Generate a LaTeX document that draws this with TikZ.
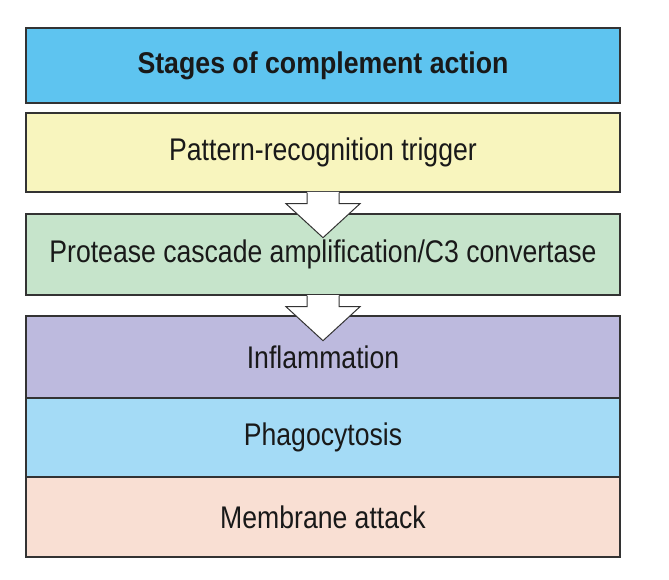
\documentclass[tikz,border=0pt]{standalone}
\usepackage{fontspec}
\setmainfont[FakeStretch=0.85]{Liberation Sans}
\newfontfamily\titlefont[FakeStretch=0.89]{Liberation Sans}
\usetikzlibrary{calc}
\definecolor{ctitle}{HTML}{5EC4F0}
\definecolor{cyellow}{HTML}{F8F5BE}
\definecolor{cgreen}{HTML}{C6E4CB}
\definecolor{cpurple}{HTML}{BDBADE}
\definecolor{cblue}{HTML}{A4DBF6}
\definecolor{cpink}{HTML}{F9DFD3}
\definecolor{cedge}{HTML}{333333}
\tikzset{
  stagebox/.style={draw=cedge, line width=1.4pt, minimum width=594pt, inner sep=0pt, font=\fontsize{31.3}{34}\selectfont, text=black!90},
  downarrow/.style={draw=cedge, line width=1pt, line join=miter}
}
\begin{document}
\begin{tikzpicture}[x=1pt,y=-1pt]
\useasboundingbox (0,0) rectangle (669,580);
\node[stagebox, fill=ctitle, minimum height=75pt, font=\titlefont\fontsize{30}{33}\selectfont\bfseries] (title) at (323,65.5) {Stages of complement action};
\node[stagebox, fill=cyellow, minimum height=79pt] (trigger) at (323,152.5) {Pattern-recognition trigger};
\node[stagebox, fill=cgreen, minimum height=81pt] (cascade) at (323,254.5) {Protease cascade amplification/C3 convertase};
\node[stagebox, fill=cpurple, minimum height=82pt] (inflam) at (323,357) {Inflammation};
\node[stagebox, fill=cblue, minimum height=79pt] (phago) at (323,437.5) {Phagocytosis};
\node[stagebox, fill=cpink, minimum height=80pt] (mac) at (323,517) {Membrane attack};
\foreach \a in {trigger, cascade}{
  \fill[white] ($(\a.south)+(-16,-0.7)$) -- ($(\a.south)+(-16,11)$) -- ($(\a.south)+(-37,11)$) -- ($(\a.south)+(0,45)$) -- ($(\a.south)+(37,11)$) -- ($(\a.south)+(16,11)$) -- ($(\a.south)+(16,-0.7)$) -- cycle;
  \draw[downarrow] ($(\a.south)+(-16,0)$) -- ($(\a.south)+(-16,11)$) -- ($(\a.south)+(-37,11)$) -- ($(\a.south)+(0,45)$) -- ($(\a.south)+(37,11)$) -- ($(\a.south)+(16,11)$) -- ($(\a.south)+(16,0)$);
}
\end{tikzpicture}
\end{document}
